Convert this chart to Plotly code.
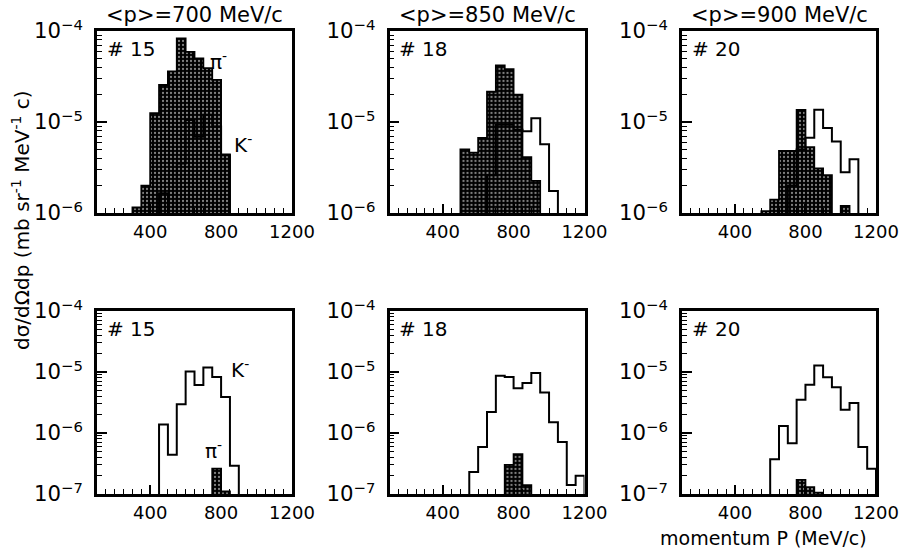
import plotly.graph_objects as go

# ---------------- data ----------------
BIN_WIDTH = 50  # MeV/c
X_RANGE = [100, 1200]
X_TICKS = [400, 800, 1200]

panel_titles = ["&lt;p&gt;=700 MeV/c", "&lt;p&gt;=850 MeV/c", "&lt;p&gt;=900 MeV/c"]
target_labels = ["# 15", "# 18", "# 20"]

# top row (pi- filled, K- open)
pi_top15_start = 300
pi_top15 = [1.15e-6, 2.0e-6, 1.25e-5, 2.55e-5, 3.6e-5, 8.3e-5, 5.9e-5, 5.0e-5, 3.9e-5, 2.9e-5, 4.4e-6]
k_top15_start = 450
k_top15 = [1.65e-6, 0, 3.5e-6, 1.05e-5, 6.9e-6, 1.2e-5, 8.9e-6, 4.3e-6]

pi_top18_start = 500
pi_top18 = [5.0e-6, 4.6e-6, 6.7e-6, 2.15e-5, 4.2e-5, 3.8e-5, 2.0e-5, 4.1e-6, 2.25e-6]
k_top18_start = 650
k_top18 = [2.6e-6, 9.3e-6, 9.3e-6, 8.2e-6, 7.9e-6, 1.1e-5, 5.7e-6, 1.75e-6]

pi_top20_start = 550
pi_top20 = [1.05e-6, 1.4e-6, 4.8e-6, 4.8e-6, 1.36e-5, 5.3e-6, 3.1e-6, 2.6e-6, 0, 1.2e-6]
k_top20_start = 700
k_top20 = [2.0e-6, 5.0e-6, 6.7e-6, 1.36e-5, 8.6e-6, 6.1e-6, 2.8e-6, 3.9e-6]

# bottom row (K- open, pi- filled)
k_bot15_start = 450
k_bot15 = [1.38e-6, 4.4e-7, 2.95e-6, 1.02e-5, 6.1e-6, 1.19e-5, 8.3e-6, 3.9e-6, 2.9e-7]
pi_bot15_start = 750
pi_bot15 = [2.6e-7, 1.1e-7]

k_bot18_start = 550
k_bot18 = [2.3e-7, 5.9e-7, 2.2e-6, 8.7e-6, 8.3e-6, 5.4e-6, 6.6e-6, 9.6e-6, 4.6e-6, 1.5e-6, 7.1e-7, 1.4e-7, 2.0e-7]
pi_bot18_start = 750
pi_bot18 = [3.0e-7, 4.5e-7, 1.4e-7]

k_bot20_start = 600
k_bot20 = [3.7e-7, 1.3e-6, 6.8e-7, 3.5e-6, 6.2e-6, 1.28e-5, 8.2e-6, 5.6e-6, 2.4e-6, 3.1e-6, 5.9e-7, 2.6e-7]
pi_bot20_start = 750
pi_bot20 = [1.7e-7, 1.3e-7, 1.05e-7]

FLOOR = 1e-9
FONT = "DejaVu Sans"

# --------------- helpers ---------------
def step_xy(start, vals):
    edges = [start + i * BIN_WIDTH for i in range(len(vals) + 1)]
    xs, ys = [edges[0]], [FLOOR]
    for i, v in enumerate(vals):
        v = v if v > 0 else FLOOR
        xs += [edges[i], edges[i + 1]]
        ys += [v, v]
    xs.append(edges[-1]); ys.append(FLOOR)
    return xs, ys

def filled(start, vals, ax):
    xs, ys = step_xy(start, vals)
    return go.Scatter(x=xs, y=ys, mode="lines", fill="toself",
                      fillcolor="black",
                      fillpattern=dict(shape=".", fgcolor="white", bgcolor="black",
                                       size=4, solidity=0.25),
                      line=dict(color="black", width=1.8),
                      xaxis="x" + ax, yaxis="y" + ax, showlegend=False,
                      hoverinfo="skip")

def outline(start, vals, ax):
    xs, ys = step_xy(start, vals)
    return go.Scatter(x=xs, y=ys, mode="lines",
                      line=dict(color="black", width=2),
                      xaxis="x" + ax, yaxis="y" + ax, showlegend=False,
                      hoverinfo="skip")

fig = go.Figure()
# top row
fig.add_trace(filled(pi_top15_start, pi_top15, ""))
fig.add_trace(outline(k_top15_start, k_top15, ""))
fig.add_trace(filled(pi_top18_start, pi_top18, "2"))
fig.add_trace(outline(k_top18_start, k_top18, "2"))
fig.add_trace(filled(pi_top20_start, pi_top20, "3"))
fig.add_trace(outline(k_top20_start, k_top20, "3"))
# bottom row
fig.add_trace(outline(k_bot15_start, k_bot15, "4"))
fig.add_trace(filled(pi_bot15_start, pi_bot15, "4"))
fig.add_trace(outline(k_bot18_start, k_bot18, "5"))
fig.add_trace(filled(pi_bot18_start, pi_bot18, "5"))
fig.add_trace(outline(k_bot20_start, k_bot20, "6"))
fig.add_trace(filled(pi_bot20_start, pi_bot20, "6"))

W, H = 905, 559
col_px = [(97, 292), (389.5, 584.5), (682, 876)]
row_px = [(31, 213), (311, 494)]

def xdom(c):
    a, b = col_px[c]
    return [a / W, b / W]

def ydom(r):
    a, b = row_px[r]
    return [1 - b / H, 1 - a / H]

layout = dict(
    width=W, height=H,
    margin=dict(l=0, r=0, t=0, b=0, autoexpand=False),
    paper_bgcolor="white", plot_bgcolor="white",
    font=dict(family=FONT, size=18, color="black"),
)

for i in range(6):
    r, c = divmod(i, 3)
    suffix = "" if i == 0 else str(i + 1)
    layout["xaxis" + suffix] = dict(
        domain=xdom(c), anchor="y" + suffix, range=X_RANGE, automargin=False,
        tickmode="array", tickvals=X_TICKS,
        ticks="inside", ticklen=9, tickwidth=1.5, tickcolor="black",
        showline=True, linecolor="black", linewidth=2.5, mirror=True,
        showgrid=False, zeroline=False,
        tickfont=dict(family=FONT, size=18),
        ticklabelstandoff=1,
        minor=dict(tickmode="linear", tick0=0, dtick=BIN_WIDTH, ticks="inside",
                   ticklen=5, tickwidth=1.2, tickcolor="black", showgrid=False),
    )
    yr = [-6, -4] if r == 0 else [-7, -4]
    layout["yaxis" + suffix] = dict(
        domain=ydom(r), anchor="x" + suffix, type="log", range=yr, automargin=False,
        dtick=1, exponentformat="power", showexponent="all",
        ticks="inside", ticklen=10, tickwidth=1.5, tickcolor="black",
        showline=True, linecolor="black", linewidth=2.5, mirror=True,
        showgrid=False, zeroline=False,
        tickfont=dict(family=FONT, size=17),
        ticklabelstandoff=8,
        minor=dict(dtick="D1", ticks="inside", ticklen=5, tickwidth=1.2,
                   tickcolor="black", showgrid=False),
    )

fig.update_layout(**layout)

ann = []
for c in range(3):
    a, b = col_px[c]
    ann.append(dict(text=panel_titles[c], xref="paper", yref="paper",
                    x=(a + b) / 2 / W, y=1 - 15 / H, xanchor="center", yanchor="middle",
                    showarrow=False, font=dict(family=FONT, size=21)))
    for r in range(2):
        s = str(r * 3 + c + 1) if (r * 3 + c) > 0 else ""
        ann.append(dict(text=target_labels[c], xref="x" + s + " domain", yref="y" + s + " domain",
                        x=0.04, y=0.90, xanchor="left", yanchor="middle",
                        showarrow=False, font=dict(family=FONT, size=20)))

# species labels
ann.append(dict(text="π<sup>-</sup>", xref="x domain", yref="y domain", x=0.57, y=0.915,
                xanchor="left", showarrow=False, font=dict(family=FONT, size=20)))
ann.append(dict(text="K<sup>-</sup>", xref="x domain", yref="y domain", x=0.69, y=0.38,
                xanchor="left", showarrow=False, font=dict(family=FONT, size=20)))
ann.append(dict(text="K<sup>-</sup>", xref="x4 domain", yref="y4 domain", x=0.675, y=0.765,
                xanchor="left", showarrow=False, font=dict(family=FONT, size=20)))
ann.append(dict(text="π<sup>-</sup>", xref="x4 domain", yref="y4 domain", x=0.545, y=0.16,
                xanchor="left", showarrow=False, font=dict(family=FONT, size=20)))

# axis titles
ann.append(dict(text="dσ/dΩdp (mb sr<sup>-1</sup> MeV<sup>-1</sup> c)", xref="paper", yref="paper",
                x=21 / W, y=1 - 220 / H, textangle=-90, xanchor="center", yanchor="middle",
                showarrow=False, font=dict(family=FONT, size=20)))
ann.append(dict(text="momentum P (MeV/c)", xref="paper", yref="paper",
                x=763 / W, y=1 - 538 / H, xanchor="center", yanchor="middle",
                showarrow=False, font=dict(family=FONT, size=19)))

fig.update_layout(annotations=ann)
fig.write_html("out.html",
               config={"displayModeBar": False},
               post_script="document.body.style.margin='0px';"
                           "document.body.style.overflow='hidden';")
